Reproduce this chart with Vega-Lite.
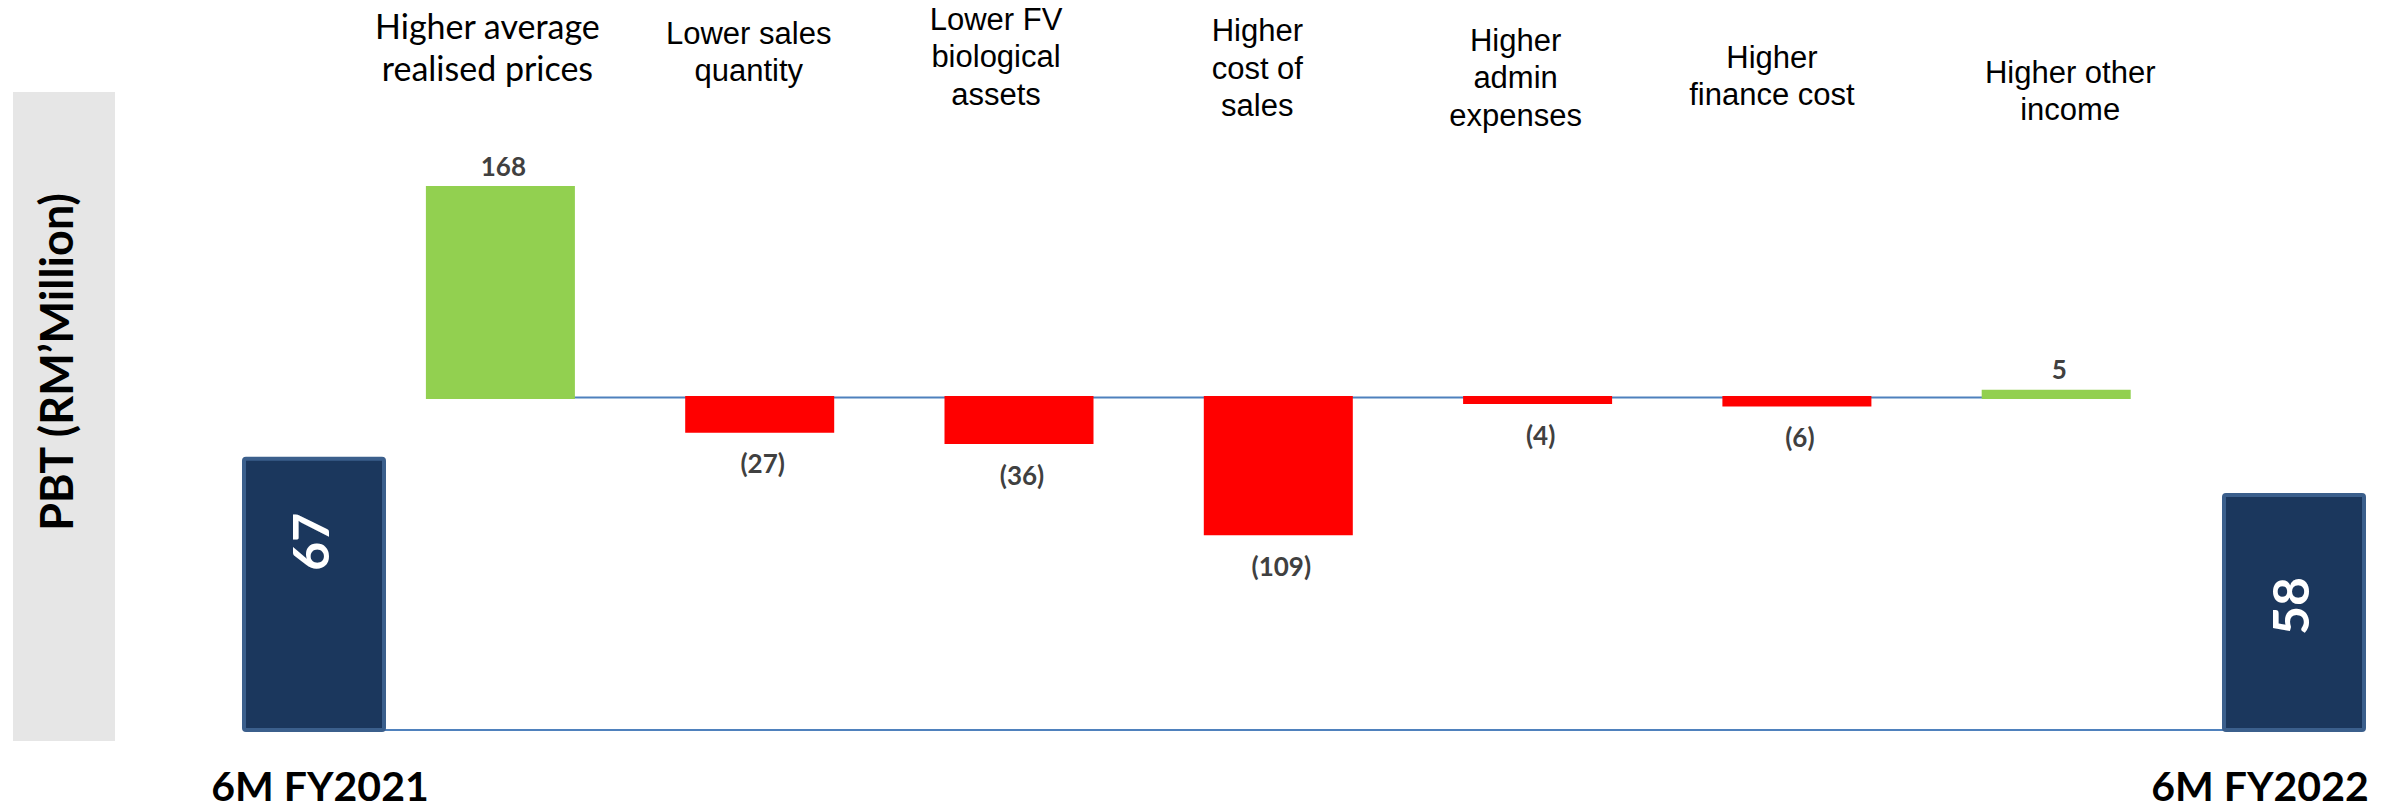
{
  "$schema": "https://vega.github.io/schema/vega-lite/v6.json",
  "width": 2394,
  "height": 809,
  "autosize": {"type": "none"},
  "padding": 0,
  "background": "#ffffff",
  "config": {"view": {"stroke": null}},
  "datasets": {
    "changes": [
      {"key": "Higher average realised prices", "label": "Higher average\nrealised prices", "value": 168, "text": "168"},
      {"key": "Lower sales quantity", "label": "Lower sales\nquantity", "value": -27, "text": "(27)"},
      {"key": "Lower FV biological assets", "label": "Lower FV\nbiological\nassets", "value": -36, "text": "(36)"},
      {"key": "Higher cost of sales", "label": "Higher\ncost of\nsales", "value": -109, "text": "(109)"},
      {"key": "Higher admin expenses", "label": "Higher\nadmin\nexpenses", "value": -4, "text": "(4)"},
      {"key": "Higher finance cost", "label": "Higher\nfinance cost", "value": -6, "text": "(6)"},
      {"key": "Higher other income", "label": "Higher other\nincome", "value": 5, "text": "5"}
    ],
    "totals": [
      {"period": "6M FY2021", "value": 67, "text": "67"},
      {"period": "6M FY2022", "value": 58, "text": "58"}
    ],
    "blank": [{}]
  },
  "layer": [
    {
      "data": {"name": "blank"},
      "mark": {"type": "rect", "fill": "#e6e6e6"},
      "encoding": {"x": {"value": 13}, "x2": {"value": 115}, "y": {"value": 92}, "y2": {"value": 741}}
    },
    {
      "data": {"name": "blank"},
      "mark": {"type": "text", "text": "PBT (RM’Million)", "angle": -90, "align": "center", "baseline": "alphabetic", "font": "Lato", "fontWeight": "bold", "fontSize": 45, "fill": "#000000"},
      "encoding": {"x": {"value": 73}, "y": {"value": 362}}
    },
    {
      "data": {"name": "totals"},
      "layer": [
        {
          "data": {"name": "blank"},
          "mark": {"type": "rule", "color": "#4f81bd", "strokeWidth": 2},
          "encoding": {
            "x": {"datum": "6M FY2021", "type": "nominal", "scale": {"type": "band", "domain": ["6M FY2021", "6M FY2022"], "paddingInner": 0.929293, "paddingOuter": 0.069192, "align": 0.8905}, "axis": null},
            "x2": {"datum": "6M FY2022"},
            "y": {"datum": 0, "type": "quantitative", "scale": {"domain": [-19.51, 180.25], "nice": false, "zero": false}, "axis": null}
          }
        },
        {
          "mark": {"type": "bar", "fill": "#1b375d", "stroke": "#3b5f8c", "strokeWidth": 4, "cornerRadius": 2},
          "encoding": {
            "x": {"field": "period", "type": "nominal", "scale": {"type": "band", "domain": ["6M FY2021", "6M FY2022"], "paddingInner": 0.929293, "paddingOuter": 0.069192, "align": 0.8905}, "axis": null},
            "y": {"field": "value", "type": "quantitative", "scale": {"domain": [-19.51, 180.25], "nice": false, "zero": false}, "axis": null},
            "y2": {"datum": 0}
          }
        },
        {
          "transform": [{"filter": "datum.period == '6M FY2021'"}],
          "mark": {"type": "text", "angle": -90, "align": "right", "baseline": "middle", "dx": -54, "font": "Lato", "fontWeight": "bold", "fontSize": 50, "fill": "#ffffff"},
          "encoding": {
            "x": {"field": "period", "type": "nominal", "scale": {"type": "band", "domain": ["6M FY2021", "6M FY2022"], "paddingInner": 0.929293, "paddingOuter": 0.069192, "align": 0.8905}, "axis": null},
            "y": {"field": "value", "type": "quantitative", "scale": {"domain": [-19.51, 180.25], "nice": false, "zero": false}, "axis": null},
            "text": {"field": "text"}
          }
        },
        {
          "transform": [{"filter": "datum.period == '6M FY2022'"}],
          "mark": {"type": "text", "angle": -90, "align": "right", "baseline": "middle", "dx": -82, "font": "Lato", "fontWeight": "bold", "fontSize": 50, "fill": "#ffffff"},
          "encoding": {
            "x": {"field": "period", "type": "nominal", "scale": {"type": "band", "domain": ["6M FY2021", "6M FY2022"], "paddingInner": 0.929293, "paddingOuter": 0.069192, "align": 0.8905}, "axis": null},
            "y": {"field": "value", "type": "quantitative", "scale": {"domain": [-19.51, 180.25], "nice": false, "zero": false}, "axis": null},
            "text": {"field": "text"}
          }
        },
        {
          "transform": [{"filter": "datum.period == '6M FY2021'"}],
          "mark": {"type": "text", "align": "center", "baseline": "top", "dx": 6, "dy": 39, "font": "Lato", "fontWeight": "bold", "fontSize": 41, "fill": "#000000"},
          "encoding": {
            "x": {"field": "period", "type": "nominal", "scale": {"type": "band", "domain": ["6M FY2021", "6M FY2022"], "paddingInner": 0.929293, "paddingOuter": 0.069192, "align": 0.8905}, "axis": null},
            "y": {"datum": 0, "type": "quantitative", "scale": {"domain": [-19.51, 180.25], "nice": false, "zero": false}, "axis": null},
            "text": {"field": "period"}
          }
        },
        {
          "transform": [{"filter": "datum.period == '6M FY2022'"}],
          "mark": {"type": "text", "align": "center", "baseline": "top", "dx": -34, "dy": 39, "font": "Lato", "fontWeight": "bold", "fontSize": 41, "fill": "#000000"},
          "encoding": {
            "x": {"field": "period", "type": "nominal", "scale": {"type": "band", "domain": ["6M FY2021", "6M FY2022"], "paddingInner": 0.929293, "paddingOuter": 0.069192, "align": 0.8905}, "axis": null},
            "y": {"datum": 0, "type": "quantitative", "scale": {"domain": [-19.51, 180.25], "nice": false, "zero": false}, "axis": null},
            "text": {"field": "period"}
          }
        }
      ]
    },
    {
      "data": {"name": "changes"},
      "layer": [
        {
          "data": {"name": "blank"},
          "mark": {"type": "rule", "color": "#4f81bd", "strokeWidth": 2},
          "encoding": {
            "x": {"datum": "Higher average realised prices", "type": "nominal", "scale": {"type": "band", "domain": ["Higher average realised prices", "Lower sales quantity", "Lower FV biological assets", "Higher cost of sales", "Higher admin expenses", "Higher finance cost", "Higher other income"], "range": [427.4, 2129.2], "paddingInner": 0.43694, "paddingOuter": 0}, "axis": null},
            "x2": {"datum": "Higher other income"},
            "y": {"datum": 0, "type": "quantitative", "scale": {"domain": [-329.2, 318], "nice": false, "zero": false}, "axis": null}
          }
        },
        {
          "mark": {"type": "bar", "strokeWidth": 3},
          "encoding": {
            "x": {"field": "key", "type": "nominal", "scale": {"type": "band", "domain": ["Higher average realised prices", "Lower sales quantity", "Lower FV biological assets", "Higher cost of sales", "Higher admin expenses", "Higher finance cost", "Higher other income"], "range": [427.4, 2129.2], "paddingInner": 0.43694, "paddingOuter": 0}, "axis": null},
            "y": {"field": "value", "type": "quantitative", "scale": {"domain": [-329.2, 318], "nice": false, "zero": false}, "axis": null},
            "y2": {"datum": 0},
            "fill": {"condition": {"test": "datum.value > 0", "value": "#92d050"}, "value": "#ff0000"},
            "stroke": {"condition": {"test": "datum.value > 0", "value": "#92d050"}, "value": "#ff0000"}
          }
        },
        {
          "transform": [{"filter": "datum.value > 0"}],
          "mark": {"type": "text", "align": "center", "baseline": "alphabetic", "dx": 3, "dy": -12, "font": "Lato", "fontWeight": "bold", "fontSize": 26, "fill": "#404040"},
          "encoding": {
            "x": {"field": "key", "type": "nominal", "scale": {"type": "band", "domain": ["Higher average realised prices", "Lower sales quantity", "Lower FV biological assets", "Higher cost of sales", "Higher admin expenses", "Higher finance cost", "Higher other income"], "range": [427.4, 2129.2], "paddingInner": 0.43694, "paddingOuter": 0}, "axis": null},
            "y": {"field": "value", "type": "quantitative", "scale": {"domain": [-329.2, 318], "nice": false, "zero": false}, "axis": null},
            "text": {"field": "text"}
          }
        },
        {
          "transform": [{"filter": "datum.value < 0"}],
          "mark": {"type": "text", "align": "center", "baseline": "top", "dx": 3, "dy": 21, "font": "Lato", "fontWeight": "bold", "fontSize": 26, "fill": "#404040"},
          "encoding": {
            "x": {"field": "key", "type": "nominal", "scale": {"type": "band", "domain": ["Higher average realised prices", "Lower sales quantity", "Lower FV biological assets", "Higher cost of sales", "Higher admin expenses", "Higher finance cost", "Higher other income"], "range": [427.4, 2129.2], "paddingInner": 0.43694, "paddingOuter": 0}, "axis": null},
            "y": {"field": "value", "type": "quantitative", "scale": {"domain": [-329.2, 318], "nice": false, "zero": false}, "axis": null},
            "text": {"field": "text"}
          }
        },
        {
          "transform": [{"filter": "datum.key == 'Higher average realised prices'"}],
          "mark": {"type": "text", "align": "center", "baseline": "top", "lineBreak": "\n", "lineHeight": 42.5, "dx": -13, "font": "Lato", "fontSize": 34, "fill": "#000000"},
          "encoding": {
            "x": {"field": "key", "type": "nominal", "scale": {"type": "band", "domain": ["Higher average realised prices", "Lower sales quantity", "Lower FV biological assets", "Higher cost of sales", "Higher admin expenses", "Higher finance cost", "Higher other income"], "range": [427.4, 2129.2], "paddingInner": 0.43694, "paddingOuter": 0}, "axis": null},
            "y": {"value": 11.7},
            "text": {"field": "label"}
          }
        },
        {
          "transform": [{"filter": "datum.key == 'Lower sales quantity'"}],
          "mark": {"type": "text", "align": "center", "baseline": "top", "lineBreak": "\n", "lineHeight": 37.5, "dx": -11, "font": "Liberation Sans", "fontSize": 31, "fill": "#000000"},
          "encoding": {
            "x": {"field": "key", "type": "nominal", "scale": {"type": "band", "domain": ["Higher average realised prices", "Lower sales quantity", "Lower FV biological assets", "Higher cost of sales", "Higher admin expenses", "Higher finance cost", "Higher other income"], "range": [427.4, 2129.2], "paddingInner": 0.43694, "paddingOuter": 0}, "axis": null},
            "y": {"value": 19.8},
            "text": {"field": "label"}
          }
        },
        {
          "transform": [{"filter": "datum.key == 'Lower FV biological assets'"}],
          "mark": {"type": "text", "align": "center", "baseline": "top", "lineBreak": "\n", "lineHeight": 37.5, "dx": -23, "font": "Liberation Sans", "fontSize": 31, "fill": "#000000"},
          "encoding": {
            "x": {"field": "key", "type": "nominal", "scale": {"type": "band", "domain": ["Higher average realised prices", "Lower sales quantity", "Lower FV biological assets", "Higher cost of sales", "Higher admin expenses", "Higher finance cost", "Higher other income"], "range": [427.4, 2129.2], "paddingInner": 0.43694, "paddingOuter": 0}, "axis": null},
            "y": {"value": 5.8},
            "text": {"field": "label"}
          }
        },
        {
          "transform": [{"filter": "datum.key == 'Higher cost of sales'"}],
          "mark": {"type": "text", "align": "center", "baseline": "top", "lineBreak": "\n", "lineHeight": 37.5, "dx": -21, "font": "Liberation Sans", "fontSize": 31, "fill": "#000000"},
          "encoding": {
            "x": {"field": "key", "type": "nominal", "scale": {"type": "band", "domain": ["Higher average realised prices", "Lower sales quantity", "Lower FV biological assets", "Higher cost of sales", "Higher admin expenses", "Higher finance cost", "Higher other income"], "range": [427.4, 2129.2], "paddingInner": 0.43694, "paddingOuter": 0}, "axis": null},
            "y": {"value": 17.3},
            "text": {"field": "label"}
          }
        },
        {
          "transform": [{"filter": "datum.key == 'Higher admin expenses'"}],
          "mark": {"type": "text", "align": "center", "baseline": "top", "lineBreak": "\n", "lineHeight": 37.5, "dx": -22, "font": "Liberation Sans", "fontSize": 31, "fill": "#000000"},
          "encoding": {
            "x": {"field": "key", "type": "nominal", "scale": {"type": "band", "domain": ["Higher average realised prices", "Lower sales quantity", "Lower FV biological assets", "Higher cost of sales", "Higher admin expenses", "Higher finance cost", "Higher other income"], "range": [427.4, 2129.2], "paddingInner": 0.43694, "paddingOuter": 0}, "axis": null},
            "y": {"value": 26.8},
            "text": {"field": "label"}
          }
        },
        {
          "transform": [{"filter": "datum.key == 'Higher finance cost'"}],
          "mark": {"type": "text", "align": "center", "baseline": "top", "lineBreak": "\n", "lineHeight": 37, "dx": -25, "font": "Liberation Sans", "fontSize": 31, "fill": "#000000"},
          "encoding": {
            "x": {"field": "key", "type": "nominal", "scale": {"type": "band", "domain": ["Higher average realised prices", "Lower sales quantity", "Lower FV biological assets", "Higher cost of sales", "Higher admin expenses", "Higher finance cost", "Higher other income"], "range": [427.4, 2129.2], "paddingInner": 0.43694, "paddingOuter": 0}, "axis": null},
            "y": {"value": 43.8},
            "text": {"field": "label"}
          }
        },
        {
          "transform": [{"filter": "datum.key == 'Higher other income'"}],
          "mark": {"type": "text", "align": "center", "baseline": "top", "lineBreak": "\n", "lineHeight": 37, "dx": 14, "font": "Liberation Sans", "fontSize": 31, "fill": "#000000"},
          "encoding": {
            "x": {"field": "key", "type": "nominal", "scale": {"type": "band", "domain": ["Higher average realised prices", "Lower sales quantity", "Lower FV biological assets", "Higher cost of sales", "Higher admin expenses", "Higher finance cost", "Higher other income"], "range": [427.4, 2129.2], "paddingInner": 0.43694, "paddingOuter": 0}, "axis": null},
            "y": {"value": 59.3},
            "text": {"field": "label"}
          }
        }
      ]
    }
  ],
  "resolve": {"scale": {"x": "independent", "y": "independent"}}
}
